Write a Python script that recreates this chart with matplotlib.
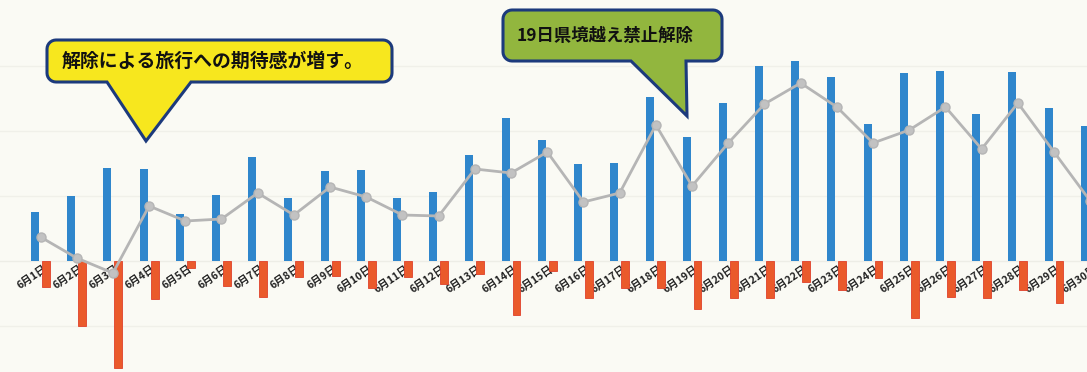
import matplotlib
matplotlib.use("Agg")
import matplotlib.pyplot as plt
from matplotlib.patches import Polygon
from matplotlib.transforms import Affine2D
import numpy as np

plt.rcParams['font.family'] = ['Noto Sans CJK JP', 'DejaVu Sans']

# ---- data (arbitrary units) ----
days = [f"6月{d}日" for d in range(1, 31)]
blue_values = [49, 65, 93, 92, 47, 66, 104, 63, 90, 91, 63, 69, 106, 143, 121,
               97, 98, 164, 124, 158, 195, 200, 184, 137, 188, 190, 147, 189, 153, 135]
red_values = [-26, -65, -107, -38, -7, -25, -36, -16, -15, -27, -16, -23, -13, -54, -10,
              -37, -27, -27, -48, -37, -37, -21, -29, -17, -57, -36, -37, -29, -42, -30]
line_values = [24, 3, -12, 55, 40, 42, 68, 46, 74, 64, 46, 45, 92, 88, 109,
               59, 68, 136, 75, 118, 157, 178, 154, 118, 131, 154, 112, 158, 109, 60]
callout1_text = "解除による旅行への期待感が増す。"
callout2_text = "19日県境越え禁止解除"

W, H = 1087, 372
BG = '#FAFAF4'
fig = plt.figure(figsize=(W / 100, H / 100), dpi=100, facecolor=BG)
ax = fig.add_axes([0, 0, 1, 1])
ax.set_facecolor(BG)

x = np.arange(len(days))
bw = 0.22
ax.set_xlim(-1.119, 28.91)
ax.set_ylim(-111, 261)

for g in [-65, 65, 130, 195]:
    ax.axhline(g, color='#F0F0E9', lw=1.0, zorder=0)
ax.axhline(0, color='#EDEDE6', lw=1.0, zorder=0)

ax.bar(x - 0.15, blue_values, width=bw, color='#2F86CC', zorder=3)
ax.bar(x + 0.15, red_values, width=bw, color='#EA5A2B', edgecolor='#E0402A',
       linewidth=0.6, zorder=3)
ax.plot(x, line_values, color='#B5B5B5', lw=2.0, marker='o', markersize=6.5,
        markerfacecolor='#C2C2C2', markeredgecolor='#B5B5B5', zorder=5)

for xi, lab in zip(x, days):
    ax.text(xi + 0.07, -3, lab, rotation=34, rotation_mode='anchor',
            ha='right', va='top', fontsize=7.6, fontweight='bold',
            color='#222222', zorder=2)

ax.axis('off')

# pixel transform (y downward from top)
pix = Affine2D().scale(1 / W, -1 / H).translate(0, 1) + fig.transFigure


def callout_poly(x0, y0, x1, y1, r, base_l, base_r, tip):
    pts = []
    def arc(cx, cy, a0, a1):
        for a in np.linspace(np.radians(a0), np.radians(a1), 8):
            pts.append((cx + r * np.cos(a), cy + r * np.sin(a)))
    arc(x0 + r, y0 + r, 180, 270)       # top-left
    arc(x1 - r, y0 + r, 270, 360)       # top-right
    arc(x1 - r, y1 - r, 0, 90)          # bottom-right
    pts.append((base_r, y1))
    pts.append(tip)
    pts.append((base_l, y1))
    arc(x0 + r, y1 - r, 90, 180)        # bottom-left
    return pts


p1 = Polygon(callout_poly(47, 40, 392, 82, 9, 107, 191, (146, 141)), closed=True,
             facecolor='#F7E71E', edgecolor='#1C3A7C', linewidth=2.2,
             transform=pix, zorder=10)
fig.add_artist(p1)
fig.text(62 / W, 1 - 61 / H, callout1_text, ha='left', va='center',
         fontsize=13.6, fontweight='bold', color='#111111', zorder=11)

p2 = Polygon(callout_poly(503, 10, 722, 61, 9, 631, 686, (687, 116)), closed=True,
             facecolor='#92B63E', edgecolor='#1C3A7C', linewidth=2.2,
             transform=pix, zorder=10)
fig.add_artist(p2)
fig.text(517 / W, 1 - 36 / H, callout2_text, ha='left', va='center',
         fontsize=12.5, fontweight='bold', color='#111111', zorder=11)

fig.savefig('out.png', dpi=100, facecolor=BG)
